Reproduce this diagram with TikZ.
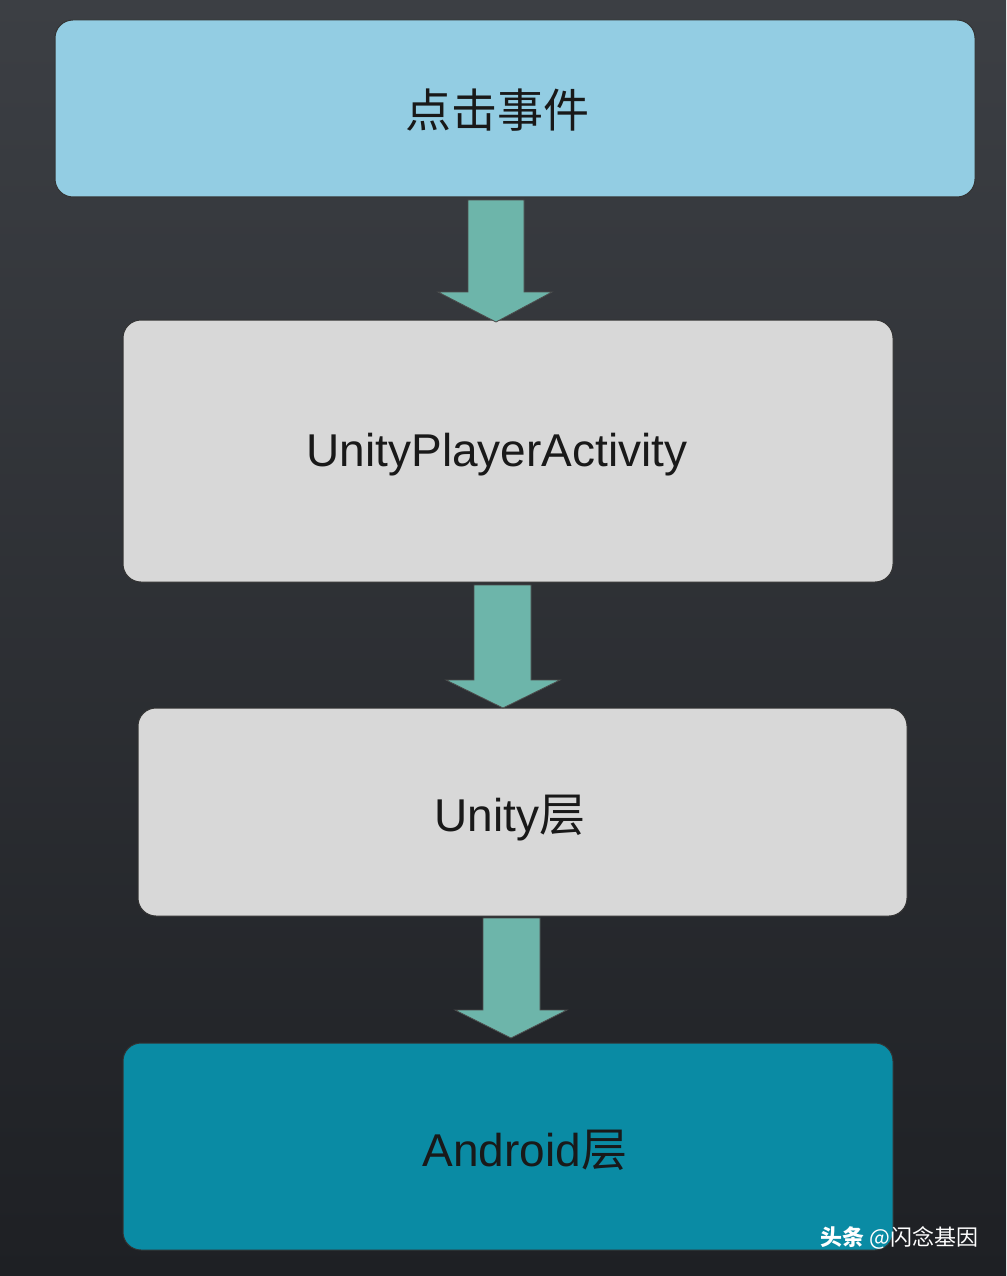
\documentclass[tikz,border=0pt]{standalone}
\usepackage{fontspec}
\setmainfont{Liberation Sans}
\newfontfamily\cjk{Noto Sans CJK SC}
\definecolor{bgtop}{HTML}{3C3F44}
\definecolor{bgbot}{HTML}{1E2024}
\definecolor{lblue}{HTML}{93CDE3}
\definecolor{lgray}{HTML}{D8D8D8}
\definecolor{teal}{HTML}{0A8BA4}
\definecolor{arr}{HTML}{6DB5AA}
\begin{document}
\begin{tikzpicture}[x=1pt,y=-1pt,
  box/.style={draw=black!80,line width=1pt,rounded corners=18pt},
  lbl/.style={font=\fontsize{46}{50}\selectfont,text=black!90},
  dn/.style={fill=arr,draw=black!70,line width=0.8pt}]
\shade[top color=bgtop,bottom color=bgbot] (0,0) rectangle (1006,1276);
\useasboundingbox (0,0) rectangle (1006,1276);
\node[box,fill=lblue,minimum width=920pt,minimum height=177pt] (b1) at (515,108.5) {};
\node[lbl] at (497,110) {\cjk 点击事件};
\node[box,fill=lgray,minimum width=770pt,minimum height=262pt] (b2) at (508,451) {};
\node[lbl] at (497,455) {UnityPlayerActivity};
\node[box,fill=lgray,minimum width=769pt,minimum height=208pt] (b3) at (522.5,812) {};
\node[lbl] at (510,818) {Unity{\cjk 层}};
\node[box,fill=teal,minimum width=770pt,minimum height=207pt] (b4) at (508,1146.5) {};
\node[lbl] at (525,1150) {Android{\cjk 层}};
\draw[dn] (468,200)--(524,200)--(524,292)--(552,292)--(496,322)--(438,292)--(468,292)--cycle;
\draw[dn] (474,585)--(531,585)--(531,680)--(560,680)--(503,708)--(446,680)--(474,680)--cycle;
\draw[dn] (483,918)--(540,918)--(540,1010)--(567,1010)--(511,1038)--(455,1010)--(483,1010)--cycle;
\node[text=white,font=\fontsize{22}{24}\selectfont,anchor=east] (wm) at (982,1238) {\cjk\textbf{头条} @闪念基因};
\end{tikzpicture}
\end{document}
